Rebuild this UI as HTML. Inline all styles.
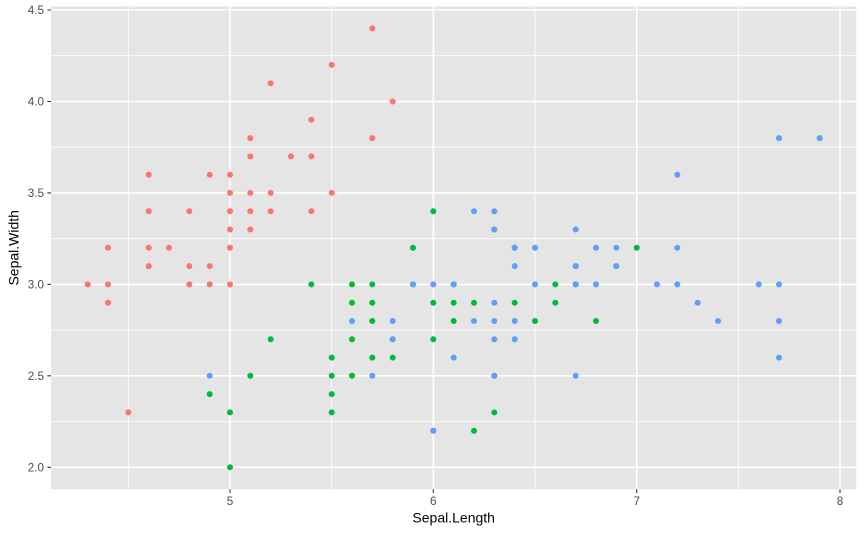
<!DOCTYPE html>
<html><head><meta charset="utf-8"><style>
html,body{margin:0;padding:0;background:#fff;}
svg{display:block;}
text{font-family:"Liberation Sans",Arial,sans-serif;}
.tk{font-size:11.7px;fill:#4D4D4D;}
.ax{font-size:14px;fill:#000;}
.pt{fill:none;stroke-width:6;stroke-linecap:round;}
</style></head><body>
<svg width="864" height="533" viewBox="0 0 864 533" xmlns="http://www.w3.org/2000/svg">
<rect x="51.07" y="6.4" width="805.2" height="482.9" fill="#E5E5E5"/>
<path stroke="#fff" stroke-width="0.8" fill="none" d="M128.3 6.4V489.3M331.7 6.4V489.3M535 6.4V489.3M738.3 6.4V489.3M51.07 421.6H856.3M51.07 330.1H856.3M51.07 238.7H856.3M51.07 147.2H856.3M51.07 55.7H856.3"/>
<path stroke="#fff" stroke-width="1.6" fill="none" d="M230 6.4V489.3M433.3 6.4V489.3M636.7 6.4V489.3M840 6.4V489.3M51.07 467.3H856.3M51.07 375.8H856.3M51.07 284.4H856.3M51.07 192.9H856.3M51.07 101.5H856.3M51.07 10H856.3"/>
<path class="pt" stroke="#F8766D" d="M250.3 192.9h.01M209.7 284.4h.01M169 247.8h.01M148.7 266.1h.01M230 174.7h.01M311.3 119.8h.01M148.7 211.2h.01M230 211.2h.01M108 302.7h.01M209.7 266.1h.01M311.3 156.4h.01M189.3 211.2h.01M189.3 284.4h.01M87.7 284.4h.01M392.7 101.5h.01M372.3 28.4h.01M372.3 138.1h.01M250.3 138.1h.01M311.3 211.2h.01M250.3 156.4h.01M148.7 174.7h.01M250.3 229.5h.01M230 284.4h.01M270.7 192.9h.01M270.7 211.2h.01M189.3 266.1h.01M270.7 83.2h.01M331.7 64.9h.01M230 247.8h.01M331.7 192.9h.01M209.7 174.7h.01M108 284.4h.01M250.3 211.2h.01M230 192.9h.01M128.3 412.4h.01M108 247.8h.01M148.7 247.8h.01M291 156.4h.01M230 229.5h.01"/>
<path class="pt" stroke="#00BA38" d="M636.7 247.8h.01M514.7 247.8h.01M616.3 266.1h.01M331.7 412.4h.01M535 321h.01M372.3 321h.01M494.3 229.5h.01M209.7 394.1h.01M555.3 302.7h.01M270.7 339.3h.01M230 467.3h.01M413 284.4h.01M433.3 430.7h.01M453.7 302.7h.01M352 302.7h.01M575.7 266.1h.01M352 284.4h.01M392.7 339.3h.01M474 430.7h.01M352 375.8h.01M413 247.8h.01M453.7 321h.01M494.3 375.8h.01M514.7 302.7h.01M555.3 284.4h.01M596 321h.01M575.7 284.4h.01M433.3 302.7h.01M372.3 357.6h.01M331.7 394.1h.01M433.3 339.3h.01M311.3 284.4h.01M433.3 211.2h.01M494.3 412.4h.01M331.7 375.8h.01M331.7 357.6h.01M453.7 284.4h.01M392.7 357.6h.01M230 412.4h.01M352 339.3h.01M372.3 284.4h.01M372.3 302.7h.01M474 302.7h.01M250.3 375.8h.01"/>
<path class="pt" stroke="#619CFF" d="M494.3 229.5h.01M392.7 339.3h.01M657 284.4h.01M494.3 302.7h.01M535 284.4h.01M758.7 284.4h.01M209.7 375.8h.01M697.7 302.7h.01M575.7 375.8h.01M677.3 174.7h.01M535 247.8h.01M514.7 339.3h.01M596 284.4h.01M372.3 375.8h.01M392.7 321h.01M514.7 247.8h.01M779 138.1h.01M779 357.6h.01M433.3 430.7h.01M616.3 247.8h.01M352 321h.01M779 321h.01M494.3 339.3h.01M575.7 229.5h.01M677.3 247.8h.01M474 321h.01M453.7 284.4h.01M514.7 321h.01M677.3 284.4h.01M718 321h.01M819.7 138.1h.01M494.3 321h.01M453.7 357.6h.01M779 284.4h.01M494.3 211.2h.01M514.7 266.1h.01M433.3 284.4h.01M616.3 266.1h.01M575.7 266.1h.01M596 247.8h.01M575.7 284.4h.01M494.3 375.8h.01M474 211.2h.01M413 284.4h.01"/>
<path stroke="#333" stroke-width="1.1" fill="none" d="M230 489.3V493M433.3 489.3V493M636.7 489.3V493M840 489.3V493M47.4 467.3H51.07M47.4 375.8H51.07M47.4 284.4H51.07M47.4 192.9H51.07M47.4 101.5H51.07M47.4 10H51.07"/>
<g class="tk" text-anchor="middle">
<text x="230" y="505">5</text>
<text x="433.3" y="505">6</text>
<text x="636.7" y="505">7</text>
<text x="840" y="505">8</text>
</g>
<g class="tk" text-anchor="end">
<text x="44" y="471.5">2.0</text>
<text x="44" y="380">2.5</text>
<text x="44" y="288.6">3.0</text>
<text x="44" y="197.1">3.5</text>
<text x="44" y="105.7">4.0</text>
<text x="44" y="14.2">4.5</text>
</g>
<text class="ax" x="453.7" y="522.5" text-anchor="middle">Sepal.Length</text>
<text class="ax" transform="translate(18.5,247.8) rotate(-90)" text-anchor="middle">Sepal.Width</text>
</svg>
</body></html>
